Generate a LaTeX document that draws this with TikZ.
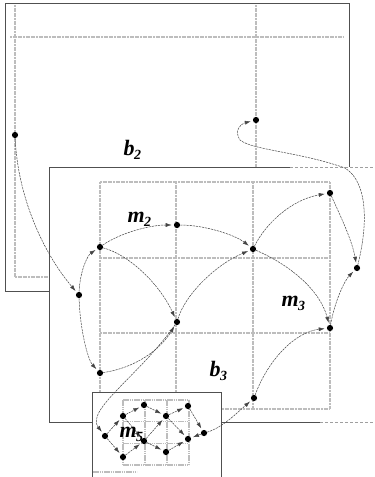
\documentclass[tikz,border=0pt]{standalone}
\usepackage{fontspec}
\setmainfont{Liberation Serif}
\usetikzlibrary{arrows.meta}
\definecolor{Frame}{HTML}{505050}
\definecolor{Mesh}{HTML}{BDBDBD}
\definecolor{Wire}{HTML}{454545}
\newcommand{\LblSub}[1]{%
  \kern-0.5pt\raisebox{-0.22em}{\fontsize{14}{14}\selectfont #1}%
}

\begin{document}
\begin{tikzpicture}[x=1pt,y=-1pt,
  frame/.style={draw=Frame,line width=0.7pt,fill=white},
  mesh/.style={Mesh,line width=2.6pt,dash pattern=on 2pt off 0.6pt},
  finemesh/.style={Mesh,line width=1.5pt,dash pattern=on 1.6pt off 0.6pt},
  dot/.style={circle,fill=black,inner sep=0pt,minimum size=6.2pt},
  link/.style={Wire,line width=0.5pt,dash pattern=on 2.2pt off 0.9pt,-{Latex[length=6pt,width=4pt]},shorten >=2pt},
  blk/.style={anchor=base west,font=\fontsize{22}{24}\selectfont\bfseries\itshape}]
\useasboundingbox (0,0) rectangle (375,477);
\clip (0,0) rectangle (375,477);

% outer block b2
\draw[frame] (5,3) rectangle (349,291);
\draw[mesh] (15,5) -- (15,277);
\draw[mesh] (10,37) -- (343,37);
\draw[mesh] (256,5) -- (256,167);
\draw[mesh] (15,277) -- (49,277);

% block b3, runs off the right side
\fill[white] (49,167) rectangle (380,422);
\draw[Frame,line width=0.7pt] (290,167) -- (49,167) -- (49,422) -- (320,422);
\draw[Frame!55,line width=0.7pt,dash pattern=on 3pt off 2pt] (290,167) -- (375,167) (320,422) -- (375,422);
\foreach \v in {100,176,253,330} \draw[mesh] (\v,182) -- (\v,409);
\foreach \h in {182,258,333,409} \draw[mesh] (100,\h) -- (330,\h);

% block b5
\draw[frame] (92,392) rectangle (221,480);
\foreach \v in {123,145,167,189} \draw[finemesh] (\v,400) -- (\v,465);
\foreach \h in {400,421.7,443.3,465} \draw[finemesh] (123,\h) -- (189,\h);
\draw[finemesh] (93,472) -- (137,472);

% states
\foreach \n/\x/\y in {p1/15/135, p2/256/120,
    q1/79/295, q2/100/247, q3/177/225, q4/253/249, q5/330/193,
    q6/357/268, q7/177/322, q8/330/328, q9/100/373, q10/254/398,
    r1/105/436, r2/123/416, r3/123/457, r4/144/405, r5/144/441,
    r6/166/416, r7/166/452, r8/188/406, r9/188/439, r10/204/433}
  \node[dot] (\n) at (\x,\y) {};

% transitions in b3
\draw[link] (p1) .. controls (18,200) and (45,255) .. (q1);
\draw[link] (q1) .. controls (80,270) and (88,255) .. (q2);
\draw[link] (q1) .. controls (80,330) and (88,360) .. (q9);
\draw[link] (q2) .. controls (120,233) and (150,225) .. (q3);
\draw[link] (q2) .. controls (130,255) and (160,285) .. (q7);
\draw[link] (q3) .. controls (205,225) and (235,235) .. (q4);
\draw[link] (q7) .. controls (185,295) and (215,265) .. (q4);
\draw[link] (q9) .. controls (135,368) and (160,350) .. (q7);
\draw[link] (q4) .. controls (265,225) and (290,200) .. (q5);
\draw[link] (q4) .. controls (290,265) and (320,290) .. (q8);
\draw[link] (q5) .. controls (340,215) and (352,240) .. (q6);
\draw[link] (q8) .. controls (335,300) and (345,280) .. (q6);
\draw[link] (q10) .. controls (268,360) and (295,332) .. (q8);
\draw[link] (q6) .. controls (368,225) and (368,182) .. (345,168)
  .. controls (300,152) and (252,150) .. (240,140)
  .. controls (234,131) and (240,124) .. (p2);
\draw[link] (q7) .. controls (140,375) and (85,410) .. (r1);
\draw[link] (r10) .. controls (222,428) and (238,412) .. (q10);

% transitions in b5
\foreach \a/\b in {r1/r2, r1/r3, r2/r4, r2/r5, r3/r5, r4/r6, r5/r6,
    r5/r7, r6/r8, r6/r9, r7/r9, r8/r10, r10/r9}
  \draw[link] (\a) -- (\b);

% block and module names
\node[blk] (tb2) at (120,155) {b\LblSub{2}};
\node[blk] (tm2) at (124,222) {m\LblSub{2}};
\node[blk] (tm3) at (278,306) {m\LblSub{3}};
\node[blk] (tb3) at (206,376) {b\LblSub{3}};
\node[blk] (tm5) at (116,437) {m\LblSub{5}};
\end{tikzpicture}
\end{document}
